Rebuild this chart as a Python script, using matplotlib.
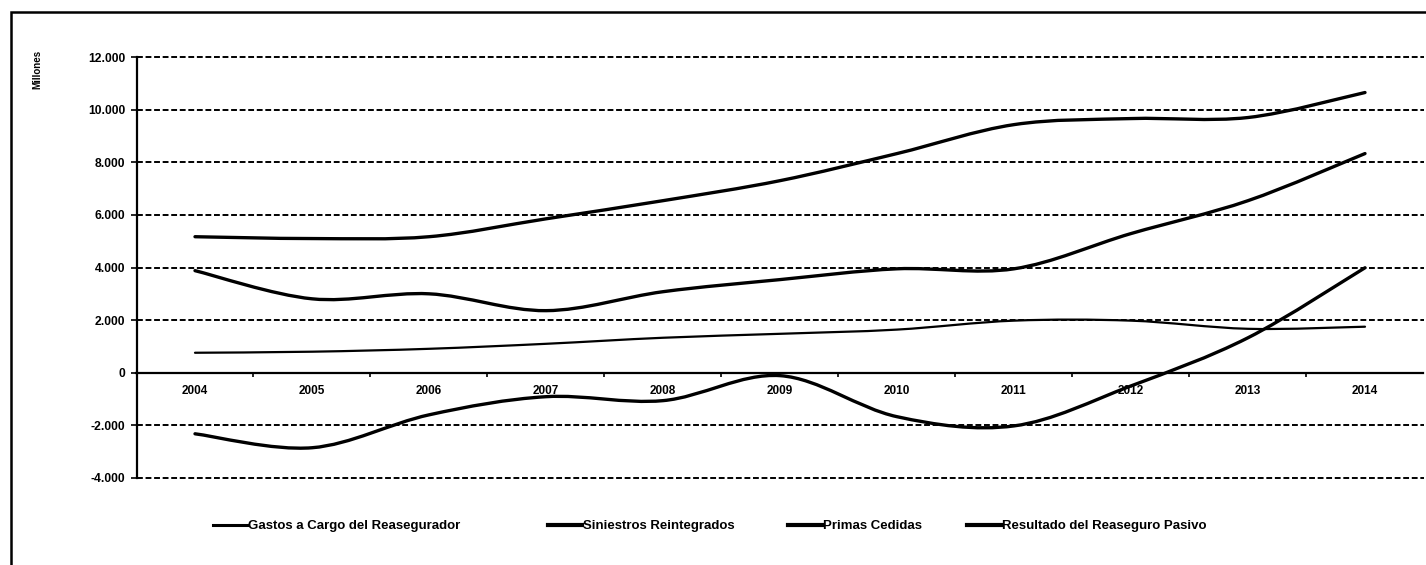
import matplotlib
matplotlib.use('Agg')
import matplotlib.pyplot as plt
import numpy as np
from matplotlib.path import Path
from matplotlib.patches import PathPatch, Rectangle
from matplotlib.lines import Line2D
from matplotlib.ticker import FuncFormatter

plt.rcParams['font.family'] = ['Liberation Sans', 'DejaVu Sans']

years = [2004, 2005, 2006, 2007, 2008, 2009, 2010, 2011, 2012, 2013, 2014]
gastos = [760, 800, 910, 1100, 1330, 1480, 1640, 1980, 1980, 1670, 1750]
siniestros = [3880, 2810, 3000, 2360, 3080, 3540, 3950, 3950, 5290, 6540, 8330]
primas = [5170, 5100, 5170, 5850, 6540, 7300, 8330, 9430, 9660, 9700, 10650]
resultado = [-2320, -2850, -1600, -910, -1060, -110, -1670, -2020, -500, 1330, 3990]
series_names = ['Gastos a Cargo del Reasegurador', 'Siniestros Reintegrados',
                'Primas Cedidas', 'Resultado del Reaseguro Pasivo']
yticks = [-4000, -2000, 0, 2000, 4000, 6000, 8000, 10000, 12000]


def smooth_path(xs, ys):
    # excel-like smoothed line (catmull-rom as cubic bezier)
    pts = np.column_stack([xs, ys]).astype(float)
    n = len(pts)
    verts = [pts[0]]
    codes = [Path.MOVETO]
    for i in range(n - 1):
        p0 = pts[max(i - 1, 0)]
        p1 = pts[i]
        p2 = pts[i + 1]
        p3 = pts[min(i + 2, n - 1)]
        verts += [p1 + (p2 - p0) / 6, p2 - (p3 - p1) / 6, p2]
        codes += [Path.CURVE4] * 3
    return Path(verts, codes)


W, H = 1426, 565
fig = plt.figure(figsize=(W / 100, H / 100), dpi=100)
ax = fig.add_axes([136.5 / W, 87 / H, 1287 / W, 421 / H])

widths = [1.6, 2.4, 2.4, 2.4]
for vals, lw in zip([gastos, siniestros, primas, resultado], widths):
    ax.add_patch(PathPatch(smooth_path(years, vals), fill=False, edgecolor='black',
                           lw=lw, capstyle='round', joinstyle='round', zorder=3))

ax.set_xlim(2003.5, 2014.5)
ax.set_ylim(-4000, 12000)
ax.set_yticks(yticks)
ax.yaxis.set_major_formatter(FuncFormatter(lambda v, p: f"{int(v):,}".replace(',', '.')))
ax.set_xticks(years)
ax.set_xticklabels([str(y) for y in years])
ax.set_xticks([y + 0.5 for y in years[:-1]], minor=True)

ax.yaxis.grid(True, color='black', linestyle=(0, (3, 1.4)), lw=1.4)
ax.set_axisbelow(True)
for gl in ax.get_ygridlines():
    gl.set_clip_on(False)
for s in ['top', 'right']:
    ax.spines[s].set_visible(False)
ax.spines['bottom'].set_position(('data', 0))
ax.spines['bottom'].set_linewidth(1.6)
ax.spines['left'].set_linewidth(1.6)
ax.spines['bottom'].set_zorder(4)

ax.tick_params(axis='x', which='major', length=0, pad=9, labelsize=8.5)
ax.tick_params(axis='x', which='minor', length=3, width=1.2, direction='out')
ax.tick_params(axis='y', length=4, width=1.2, pad=4, labelsize=8.7)
for lab in ax.get_xticklabels() + ax.get_yticklabels():
    lab.set_fontweight('bold')

fig.text(37 / W, 1 - 69 / H, 'Millones', rotation=90, ha='center', va='center',
         fontsize=7, fontweight='bold')

leg_x = [213, 548, 788, 967]
for name, lx, lw in zip(series_names, leg_x, widths):
    h = Line2D([], [], color='black', lw=lw + 0.6)
    fig.legend([h], [name], loc='center left', bbox_to_anchor=(lx / W, 1 - 526 / H),
               frameon=False, handlelength=2.6, handletextpad=0.05,
               borderpad=0, borderaxespad=0, prop={'weight': 'bold', 'size': 9.5})

fig.patches.append(Rectangle((11 / W, -0.1), 1.2, 1 - 12 / H + 0.1, transform=fig.transFigure,
                             fill=False, edgecolor='black', lw=1.8))

fig.savefig('out.png', dpi=100)
